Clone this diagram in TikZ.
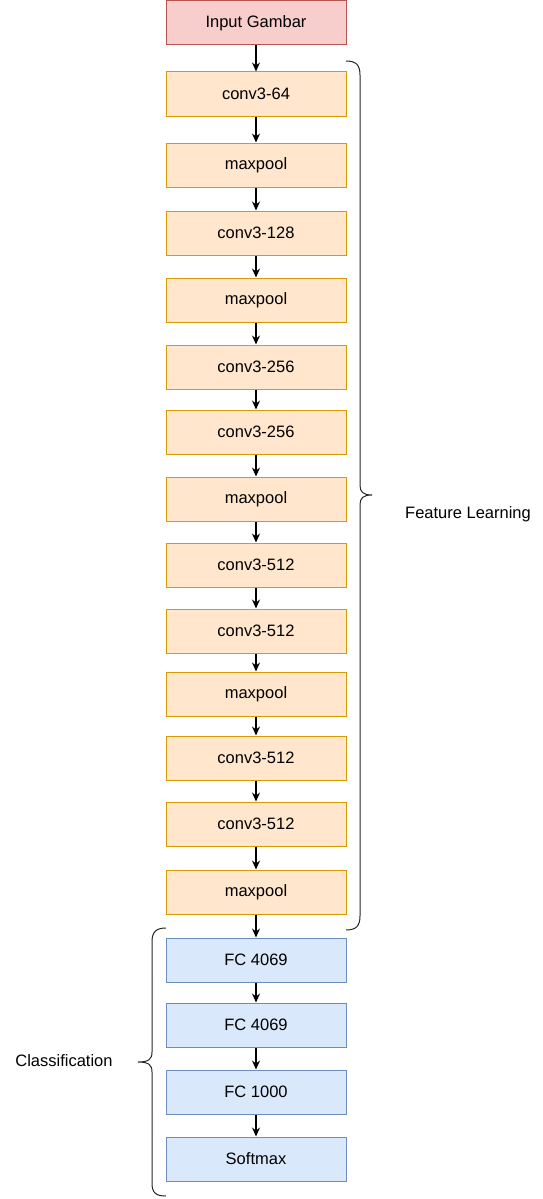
\documentclass[tikz,border=0pt]{standalone}
\usepackage{fontspec}
\setmainfont{Liberation Sans}
\usetikzlibrary{arrows.meta}
\definecolor{redfill}{HTML}{F8CECC}
\definecolor{redline}{HTML}{B85450}
\definecolor{orangefill}{HTML}{FFE6CC}
\definecolor{orangeline}{HTML}{D79B00}
\definecolor{bluefill}{HTML}{DAE8FC}
\definecolor{blueline}{HTML}{6C8EBF}
\tikzset{
  layer/.style={draw,line width=1pt,minimum width=180pt,minimum height=44pt,inner sep=0pt,font=\fontsize{16.5}{18}\selectfont},
  inbox/.style={layer,fill=redfill,draw=redline},
  featbox/.style={layer,fill=orangefill,draw=orangeline},
  clsbox/.style={layer,fill=bluefill,draw=blueline},
  flow/.style={-{Stealth[length=9pt,width=8pt]},line width=1.2pt},
  brace/.style={line width=1pt,black!85}
}
\begin{document}
\begin{tikzpicture}[x=1pt,y=-1pt]
  \useasboundingbox (0,0) rectangle (542,1199);
  \node[inbox] (in) at (256,23) {Input Gambar};
  \node[featbox] (c1) at (256,94) {conv3-64};
  \node[featbox] (p1) at (256,165) {maxpool};
  \node[featbox] (c2) at (256,233) {conv3-128};
  \node[featbox] (p2) at (256,300) {maxpool};
  \node[featbox] (c3) at (256,367) {conv3-256};
  \node[featbox] (c4) at (256,432) {conv3-256};
  \node[featbox] (p3) at (256,499) {maxpool};
  \node[featbox] (c5) at (256,565) {conv3-512};
  \node[featbox] (c6) at (256,631) {conv3-512};
  \node[featbox] (p4) at (256,694) {maxpool};
  \node[featbox] (c7) at (256,758) {conv3-512};
  \node[featbox] (c8) at (256,824) {conv3-512};
  \node[featbox] (p5) at (256,892) {maxpool};
  \node[clsbox] (f1) at (256,960) {FC 4069};
  \node[clsbox] (f2) at (256,1025) {FC 4069};
  \node[clsbox] (f3) at (256,1092) {FC 1000};
  \node[clsbox] (sm) at (256,1159) {Softmax};
  \foreach \a/\b in {in/c1,c1/p1,p1/c2,c2/p2,p2/c3,c3/c4,c4/p3,p3/c5,c5/c6,c6/p4,p4/c7,c7/c8,c8/p5,p5/f1,f1/f2,f2/f3,f3/sm}
    \draw[flow] (\a) -- (\b);
  % braces
  \draw[brace] (346,61) .. controls (356,61) and (360,65) .. (360,75) -- (360,485)
    .. controls (360,492) and (363,495) .. (372,495)
    .. controls (363,495) and (360,498) .. (360,505) -- (360,916)
    .. controls (360,926) and (356,930) .. (346,930);
  \draw[brace] (166,928) .. controls (156,928) and (152,932) .. (152,942) -- (152,1052)
    .. controls (152,1059) and (149,1062) .. (138,1062)
    .. controls (149,1062) and (152,1065) .. (152,1072) -- (152,1183)
    .. controls (152,1193) and (156,1196) .. (166,1196);
  \node[font=\fontsize{16.5}{18}\selectfont] (fl) at (468,514) {Feature Learning};
  \node[font=\fontsize{16.5}{18}\selectfont] (cl) at (64,1061) {Classification};
\end{tikzpicture}
\end{document}
